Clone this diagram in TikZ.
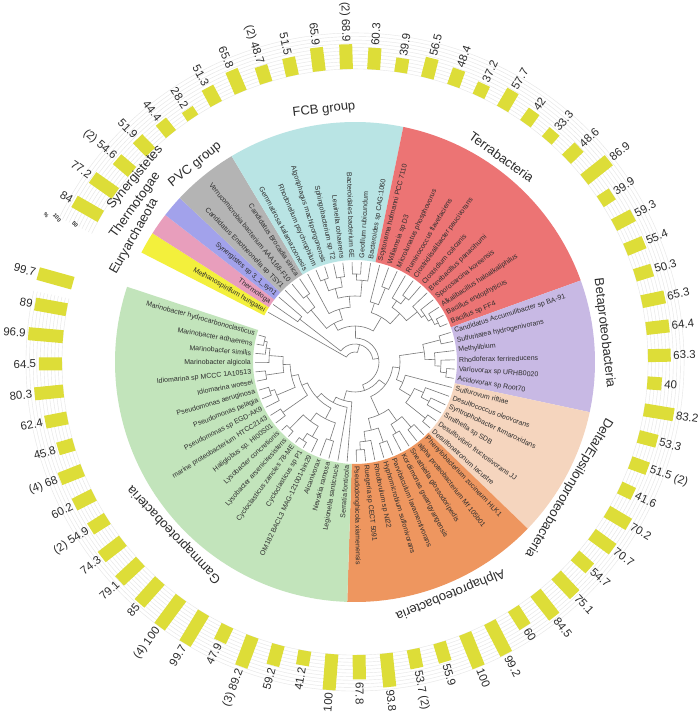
\documentclass[tikz,border=0pt]{standalone}
\usepackage{fontspec}
\setmainfont{Liberation Sans}
\definecolor{cEury}{RGB}{243,240,60}
\definecolor{cTher}{RGB}{232,158,188}
\definecolor{cSyn}{RGB}{162,162,235}
\definecolor{cPVC}{RGB}{180,180,180}
\definecolor{cFCB}{RGB}{185,228,228}
\definecolor{cTerra}{RGB}{236,116,116}
\definecolor{cBeta}{RGB}{200,185,228}
\definecolor{cDelta}{RGB}{245,213,190}
\definecolor{cAlpha}{RGB}{238,150,95}
\definecolor{cGamma}{RGB}{194,228,187}
\definecolor{barcol}{RGB}{221,221,56}
\definecolor{treecol}{RGB}{120,120,120}
\definecolor{txtcol}{RGB}{45,45,45}
\tikzset{
  treeline/.style={draw=treecol, line width=0.6pt},
  leaf/.style={font=\fontsize{7}{8}\selectfont, text=txtcol, inner sep=0pt},
  val/.style={font=\fontsize{11.5}{13}\selectfont, text=txtcol, inner sep=0pt},
  grp/.style={font=\fontsize{13}{15}\selectfont, text=txtcol, inner sep=0pt},
  leg/.style={font=\fontsize{5.5}{6}\selectfont\bfseries, text=txtcol, inner sep=0pt},
  gridc/.style={draw=black!10, line width=0.4pt}
}
\newcommand\clade[5]{%
  \pgfmathsetmacro\cA{150.2-5.32*(#2-1)}%
  \pgfmathsetmacro\cB{150.2-5.32*(#4-1)}%
  \draw[treeline] (\cA:#3pt) -- (\cA:#1pt) arc[start angle=\cA, end angle=\cB, radius=#1pt] -- (\cB:#5pt);%
}
\newcommand\grpsector[3]{%
  \fill[#1] (#2:102pt) arc[start angle=#2, end angle=#3, radius=102pt] -- (#3:240pt) arc[start angle=#3, end angle=#2, radius=240pt] -- cycle;%
}
\begin{document}
\begin{tikzpicture}
\useasboundingbox (-355pt,-353pt) rectangle (345pt,362pt);
\fill[white] (-355pt,-353pt) rectangle (345pt,362pt);

% coloured clade sectors
\grpsector{cEury}{152.86}{147.54}
\grpsector{cTher}{147.54}{142.22}
\grpsector{cSyn}{142.22}{136.90}
\grpsector{cPVC}{136.90}{120.94}
\grpsector{cFCB}{120.94}{78.38}
\grpsector{cTerra}{78.38}{19.86}
\grpsector{cBeta}{19.86}{-12.06}
\grpsector{cDelta}{-12.06}{-43.98}
\grpsector{cAlpha}{-43.98}{-91.86}
\grpsector{cGamma}{-91.86}{-198.26}

% grid arcs of the bar ring
\foreach \kk in {0,...,10}{
  \pgfmathsetmacro\gR{293+3.6*\kk}
  \draw[gridc] (154:\gR pt) arc[start angle=154, end angle=-192.5, radius=\gR pt];
}
\node[leg,rotate=-50] (legp) at (154.6:342pt) {\%};
\node[leg,rotate=-50] (legh) at (154.2:331pt) {100};
\node[leg,rotate=-50] (legf) at (153.8:312pt) {50};

% tree
\clade{93}{65}{100}{66}{100}
\clade{90}{64}{100}{65.5}{93}
\clade{86}{63}{100}{64.75}{90}
\clade{90}{61}{100}{62}{100}
\clade{72}{61.5}{90}{63.875}{86}
\clade{90}{59}{100}{60}{100}
\clade{85}{58}{100}{59.5}{90}
\clade{65}{58.75}{85}{62.6875}{72}
\clade{88}{56}{100}{57}{100}
\clade{58}{56.5}{88}{60.71875}{65}
\clade{93}{54}{100}{55}{100}
\clade{94}{52}{100}{53}{100}
\clade{86}{51}{100}{52.5}{94}
\clade{74}{51.75}{86}{54.5}{93}
\clade{82}{49}{100}{50}{100}
\clade{64}{49.5}{82}{53.125}{74}
\clade{52}{51.3125}{64}{58.609375}{58}
\clade{46}{48}{100}{54.9609375}{52}
\clade{40}{47}{100}{51.48046875}{46}
\clade{88}{45}{100}{46}{100}
\clade{80}{44}{100}{45.5}{88}
\clade{85}{42}{100}{43}{100}
\clade{70}{42.5}{85}{44.75}{80}
\clade{82}{40}{100}{41}{100}
\clade{86}{38}{100}{39}{100}
\clade{72}{38.5}{86}{40.5}{82}
\clade{58}{39.5}{72}{43.625}{70}
\clade{90}{36}{100}{37}{100}
\clade{84}{34}{100}{35}{100}
\clade{75}{33}{100}{34.5}{84}
\clade{65}{33.75}{75}{36.5}{90}
\clade{52}{32}{100}{35.125}{65}
\clade{92}{30}{100}{31}{100}
\clade{86}{29}{100}{30.5}{92}
\clade{80}{28}{100}{29.75}{86}
\clade{88}{26}{100}{27}{100}
\clade{70}{26.5}{88}{28.875}{80}
\clade{45}{27.6875}{70}{33.5625}{52}
\clade{38}{30.625}{45}{41.5625}{58}
\clade{30}{36.09375}{38}{49.240234375}{40}
\clade{92}{24}{100}{25}{100}
\clade{88}{23}{100}{24.5}{92}
\clade{84}{22}{100}{23.75}{88}
\clade{80}{21}{100}{22.875}{84}
\clade{82}{19}{100}{20}{100}
\clade{74}{18}{100}{19.5}{82}
\clade{66}{18.75}{74}{21.9375}{80}
\clade{80}{16}{100}{17}{100}
\clade{62}{15}{100}{16.5}{80}
\clade{52}{15.75}{62}{20.34375}{66}
\clade{88}{12}{100}{13}{100}
\clade{82}{12.5}{88}{14}{100}
\clade{86}{10}{100}{11}{100}
\clade{88}{8}{100}{9}{100}
\clade{76}{8.5}{88}{10.5}{86}
\clade{66}{9.5}{76}{13.25}{82}
\clade{55}{7}{100}{11.375}{66}
\clade{82}{5}{100}{6}{100}
\clade{68}{4}{100}{5.5}{82}
\clade{70}{2}{100}{3}{100}
\clade{44}{4.75}{68}{9.1875}{55}
\clade{36}{6.96875}{44}{18.046875}{52}
\clade{24}{12.5078125}{36}{42.6669921875}{30}
\clade{18}{2.5}{70}{27.58740234375}{24}
\clade{10}{1}{100}{15.043701171875}{18}

% leaf labels
\foreach \ix/\nm in {1/Methanospirillum hungatei, 2/Thermotoga, 3/Synergistes sp 3\_1\_syn1,
 4/Candidatus Entotheonella sp TSY1, 5/Verrucomicrobia bacterium AAA168-F10, 6/Candidatus Brocadia sinica,
 7/Gemmatirosa kalamazoonesis, 8/Rhodonellum psychrophilum, 9/Algoriphagus machipongonensis,
 10/Sphingobacterium sp T2, 11/Lewinella cohaerens, 12/Bacteroidales bacterium 6E, 13/Geofilum rubicundum,
 14/Bacteroides sp CAG:1060, 15/Scytonema hofmanni PCC 7110, 16/Williamsia sp D3, 17/Microlunatus phosphovorus,
 18/Ruminococcus flavefaciens, 19/Clostridiisalibacter paucivorans, 20/Clostridium colicanis,
 21/Brevibacillus panacihumi, 22/Sporosarcina koreensis, 23/Alkalibacillus haloalkaliphilus,
 24/Bacillus endophyticus, 25/Bacillus sp FF4, 26/Candidatus Accumulibacter sp BA-91,
 27/Sulfuritalea hydrogenivorans, 28/Methylibium, 29/Rhodoferax ferrireducens, 30/Variovorax sp URHB0020,
 31/Acidovorax sp Root70, 32/Sulfurovum riftiae, 33/Desulfococcus oleovorans, 34/Syntrophobacter fumaroxidans,
 35/Smithella sp SDB, 36/Desulfovibrio fructosivorans JJ, 37/Desulfonatronum lacustre,
 38/Phenylobacterium zucineum HLK1, 39/alpha proteobacterium Mf 105b01, 40/Sneathiella glossodoripedis,
 41/Kordiimonas gwangyangensis, 42/Parvibaculum lavamentivorans, 43/Hyphomicrobium sulfonivorans,
 44/Rhodovulum sp NI22, 45/Ruegeria sp CECT 5091, 46/Pseudodonghicola xiamenensis, 47/Serratia fonticola,
 48/Legionella santicrucis, 49/Nevskia ramosa, 50/Alcanivorax, 51/OM182 BACL3 MAG-121001-bin29,
 52/Cycloclasticus sp P1, 53/Cycloclasticus zancles 78-ME, 54/Lysobacter arseniciresistens,
 55/Lysobacter concretionis, 56/Haliglobus sp. HI00S01, 57/marine proteobacterium HTCC2143,
 58/Pseudomonas sp EGD-AK9, 59/Pseudomonas pelagia, 60/Pseudomonas aeruginosa, 61/Idiomarina woesei,
 62/Idiomarina sp MCCC 1A10513, 63/Marinobacter algicola, 64/Marinobacter similis, 65/Marinobacter adhaerens,
 66/Marinobacter hydrocarbonoclasticus}{
  \pgfmathsetmacro\aL{150.2-5.32*(\ix-1)}
  \pgfmathtruncatemacro\rS{(\aL>-90)*(\aL<90)}
  \ifnum\rS=1
    \node[leaf,anchor=west,rotate=\aL] (leaf\ix) at (\aL:104pt) {\nm};
  \else
    \node[leaf,anchor=east,rotate=\aL-180] (leaf\ix) at (\aL:104pt) {\nm};
  \fi
}

% bars and values
\foreach \ix/\val/\txt in {1/84/84, 2/77.2/77.2, 3/54.6/{(2) 54.6}, 4/51.9/51.9, 5/44.4/44.4, 6/28.2/28.2,
 7/51.3/51.3, 8/65.8/65.8, 9/48.7/{(2) 48.7}, 10/51.5/51.5, 11/65.9/65.9, 12/68.9/{(2) 68.9}, 13/60.3/60.3,
 14/39.9/39.9, 15/56.5/56.5, 16/48.4/48.4, 17/37.2/37.2, 18/57.7/57.7, 19/42/42, 20/33.3/33.3, 21/48.6/48.6,
 22/86.9/86.9, 23/39.9/39.9, 24/59.3/59.3, 25/55.4/55.4, 26/50.3/50.3, 27/65.3/65.3, 28/64.4/64.4,
 29/63.3/63.3, 30/40/40, 31/83.2/83.2, 32/53.3/53.3, 33/51.5/{51.5 (2)}, 34/41.6/41.6, 35/70.2/70.2,
 36/70.7/70.7, 37/54.7/54.7, 38/75.1/75.1, 39/84.5/84.5, 40/60/60, 41/99.2/99.2, 42/100/100, 43/55.9/55.9,
 44/53.7/{53.7 (2)}, 45/93.8/93.8, 46/67.8/67.8, 47/100/100, 48/41.2/41.2, 49/59.2/59.2, 50/89.2/{(3) 89.2},
 51/47.9/47.9, 52/99.7/99.7, 53/100/{(4) 100}, 54/85/85, 55/79.1/79.1, 56/74.3/74.3, 57/54.9/{(2) 54.9},
 58/60.2/60.2, 59/68/{(4) 68}, 60/45.8/45.8, 61/62.4/62.4, 62/80.3/80.3, 63/64.5/64.5, 64/96.9/96.9,
 65/89/89, 66/99.7/99.7}{
  \pgfmathsetmacro\aL{150.2-5.32*(\ix-1)}
  \pgfmathsetmacro\rE{293+0.36*\val}
  \pgfmathsetmacro\rL{\rE+2.5}
  \pgfmathtruncatemacro\rS{(\aL>-90)*(\aL<90)}
  \fill[barcol,rotate=\aL] (293pt,-6.5pt) rectangle (\rE pt,6.5pt);
  \ifnum\rS=1
    \node[val,anchor=west,rotate=\aL] (val\ix) at (\aL:\rL pt) {\txt};
  \else
    \node[val,anchor=east,rotate=\aL-180] (val\ix) at (\aL:\rL pt) {\txt};
  \fi
}

% clade names
\node[grp,rotate=60.4] (gEury) at (150.4:254pt) {Euryarchaeota};
\node[grp,rotate=54.5] (gTher) at (144.5:270pt) {Thermotogae};
\node[grp,rotate=50] (gSyn) at (140:287pt) {Synergistetes};
\node[grp,rotate=39] (gPVC) at (129:254pt) {PVC group};
\node[grp,rotate=7] (gFCB) at (97:254pt) {FCB group};
\node[grp,rotate=-35.6] (gTerra) at (54.4:252pt) {Terrabacteria};
\node[grp,rotate=-83.4] (gBeta) at (6.6:251pt) {Betaproteobacteria};
\node[grp,rotate=-120.5] (gDelta) at (-30.5:248pt) {Delta/Epsilonproteobacteria};
\node[grp,rotate=-157.7] (gAlpha) at (-67.7:251pt) {Alphaproteobacteria};
\node[grp,rotate=-226.3] (gGamma) at (-136.3:250pt) {Gammaproteobacteria};
\end{tikzpicture}
\end{document}
